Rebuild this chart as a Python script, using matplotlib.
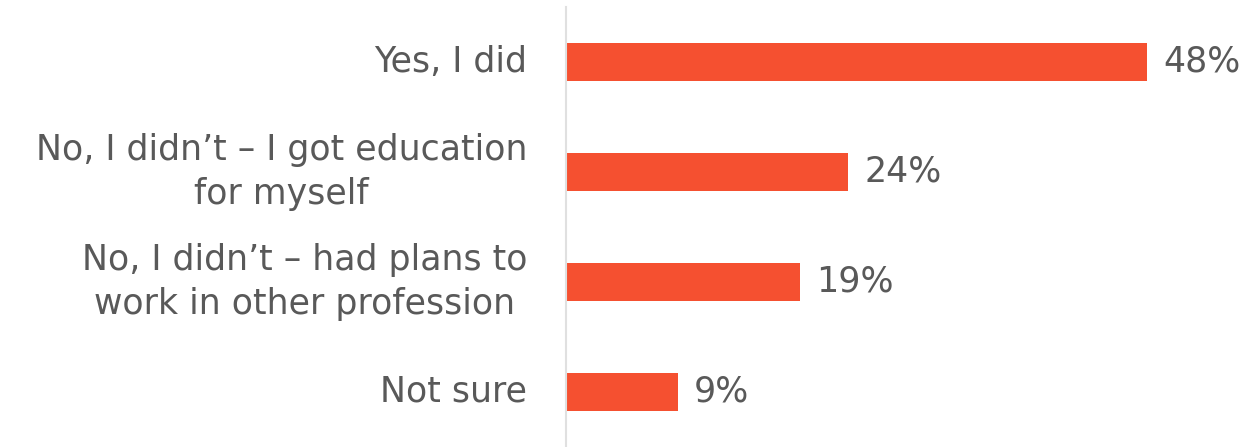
import matplotlib
matplotlib.use('Agg')
import matplotlib.pyplot as plt

categories = ['Yes, I did',
              'No, I didn\u2019t \u2013 I got education\nfor myself',
              'No, I didn\u2019t \u2013 had plans to\nwork in other profession',
              'Not sure']
# bar lengths, labels as printed
values = [48.4, 23.5, 19.5, 9.3]
value_labels = ['48%', '24%', '19%', '9%']

bar_color = '#F55030'
text_color = '#595959'

plt.rcParams['font.family'] = ['DejaVu Sans']

fig = plt.figure(figsize=(12.45, 4.47), dpi=100)
ax = fig.add_axes([566 / 1245, 0, 679 / 1245, 440 / 447])

pos = list(range(len(values)))
ax.barh(pos, values, height=0.345, color=bar_color)
ax.set_xlim(0, 56.6)
ax.set_ylim(3.5, -0.5)

for p, v, t in zip(pos, values, value_labels):
    ax.annotate(t, (v, p), xytext=(12, 0), textcoords='offset points',
                ha='left', va='center', fontsize=25, color=text_color)

for p, c in zip(pos, categories):
    ax.annotate(c, (0, p), xytext=(-28, 0), textcoords='offset points',
                ha='right', va='center', multialignment='center',
                fontsize=25, color=text_color, linespacing=1.4)

ax.set_xticks([])
ax.set_yticks([])
for s in ['top', 'right', 'bottom']:
    ax.spines[s].set_visible(False)
ax.spines['left'].set_color('#E0E0E0')
ax.spines['left'].set_linewidth(1.5)

plt.savefig('out.png', dpi=100)
plt.close()
